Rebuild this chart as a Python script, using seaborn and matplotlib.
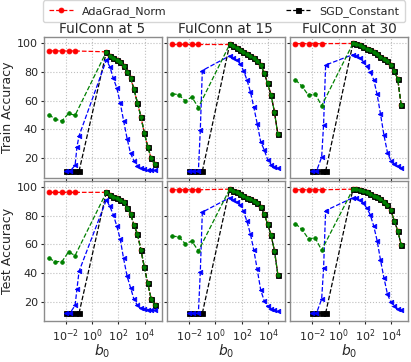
import numpy as np
import pandas as pd
import matplotlib
matplotlib.use("Agg")
import matplotlib.pyplot as plt
import seaborn as sns

# b0 grids
b0_low = [5e-4, 1.6e-3, 5e-3, 1.6e-2, 5e-2]          # AdaGrad_Norm + green series
b0_sgd_low = [0.01, 0.02, 0.05, 0.1]                # SGD_Constant, diverged runs
b0_blue_low = [0.01, 0.02, 0.05, 0.07, 0.1]
b0_high = [12, 22, 40, 74, 135, 245, 455, 830, 1500, 2760, 5100, 9300, 17000, 31000, 56000]

layers = [5, 15, 30]

# ---- train accuracy, one row per layer ----
train_red_low = [[94.6, 94.5, 94.5, 94.5, 94.5],
                 [99.0, 99.0, 99.0, 99.0, 99.0],
                 [99.6, 99.6, 99.6, 99.6, 99.6]]
train_green_low = [[50.3, 47.0, 45.9, 51.1, 49.8],
                   [64.8, 64.1, 59.8, 62.5, 55.2],
                   [74.5, 70.0, 63.6, 64.8, 56.4]]
train_green_high = [[93.9, 91.1, 89.8, 88.4, 87.1, 84.1, 80.2, 75.7, 68.0, 58.6, 48.9, 37.5, 28.0, 19.8, 15.9],
                    [99.0, 97.6, 96.5, 94.9, 93.5, 92.1, 90.8, 89.6, 87.6, 84.6, 79.4, 71.9, 63.9, 51.9, 36.5],
                    [99.7, 99.0, 98.3, 97.2, 96.1, 94.9, 93.5, 92.1, 90.6, 89.2, 87.4, 84.6, 80.5, 74.9, 56.9]]
train_blue_low = [[10.9, 10.9, 15.0, 28.0, 35.5],
                  [10.9, 10.9, 10.9, 39.3, 80.9],
                  [10.9, 10.9, 20.7, 43.4, 84.7]]
train_blue_high = [[88.2, 83.6, 75.7, 68.9, 58.6, 46.1, 33.6, 23.4, 18.2, 14.8, 13.2, 12.5, 12.1, 12.0, 12.0],
                   [91.1, 89.8, 88.2, 85.5, 80.9, 74.6, 66.2, 55.3, 44.0, 31.5, 25.8, 19.0, 15.6, 14.0, 12.9],
                   [92.0, 91.1, 89.8, 87.1, 84.1, 80.2, 74.6, 64.3, 50.7, 35.9, 23.9, 18.2, 15.9, 14.3, 13.2]]
train_sgd_low = [[10.9, 10.9, 10.9, 10.9],
                 [10.9, 10.9, 10.9, 10.9],
                 [10.9, 10.9, 10.9, 10.9]]

# ---- test accuracy ----
test_red_low = [[96.2, 96.2, 96.2, 96.2, 96.2],
                [98.0, 98.0, 98.0, 98.0, 98.0],
                [98.0, 98.0, 98.0, 98.0, 98.0]]
test_green_low = [[50.3, 48.1, 48.1, 54.8, 52.3],
                  [65.7, 65.4, 60.5, 62.3, 55.5],
                  [74.5, 70.4, 63.9, 64.6, 56.0]]
test_green_high = [[96.2, 94.4, 93.2, 92.3, 91.2, 89.4, 85.3, 81.3, 73.6, 67.3, 56.4, 44.2, 32.9, 22.0, 18.0],
                   [98.4, 97.3, 96.2, 94.8, 93.7, 92.5, 91.7, 90.3, 88.5, 85.8, 81.3, 74.0, 66.6, 55.5, 39.0],
                   [98.4, 98.2, 97.8, 97.1, 96.2, 95.3, 93.9, 92.8, 91.5, 89.8, 87.6, 83.7, 76.3, 69.5, 59.8]]
test_blue_low = [[12.2, 12.2, 17.6, 29.3, 41.3],
                 [12.2, 12.2, 12.2, 40.6, 82.4],
                 [12.2, 12.2, 22.0, 43.5, 83.5]]
test_blue_high = [[91.0, 86.4, 80.8, 72.9, 63.9, 50.3, 37.9, 30.0, 22.0, 17.6, 15.9, 15.3, 14.8, 14.4, 14.2],
                  [92.5, 91.0, 89.4, 87.6, 83.1, 76.3, 67.3, 56.0, 42.8, 28.4, 20.9, 16.9, 15.3, 14.6, 13.9],
                  [92.5, 92.1, 90.8, 88.7, 85.3, 80.8, 72.9, 62.7, 49.2, 36.7, 25.4, 19.8, 16.9, 15.3, 14.2]]
test_sgd_low = [[12.2, 12.2, 12.2, 12.2],
                [12.2, 12.2, 12.2, 12.2],
                [12.2, 12.2, 12.2, 12.2]]

sns.set_style("white")
plt.rcParams.update({
    "font.family": ["DejaVu Sans"],
    "axes.edgecolor": "0.55",
    "axes.linewidth": 1.0,
    "xtick.bottom": True,
    "ytick.left": True,
    "xtick.major.size": 2.5,
    "ytick.major.size": 2.5,
    "xtick.minor.size": 0,
    "xtick.labelsize": 8,
    "ytick.labelsize": 8,
})

fig, axes = plt.subplots(2, 3, figsize=(4.11, 3.62), dpi=100, sharex=True, sharey=True)

rows = [
    ("Train Accuracy", train_red_low, train_green_low, train_green_high, train_blue_low, train_blue_high, train_sgd_low),
    ("Test Accuracy", test_red_low, test_green_low, test_green_high, test_blue_low, test_blue_high, test_sgd_low),
]


def draw(ax, x, y, color, marker, ms, label=None, z=2):
    sns.lineplot(x=x, y=y, ax=ax, color=color, marker=marker, markersize=ms,
                 linestyle="--", linewidth=0.9, markeredgecolor=color,
                 markeredgewidth=0.6, label=label, legend=False, zorder=z)


for r, (ylab, red_low, g_low, g_high, b_low, b_high, s_low) in enumerate(rows):
    for c, layer in enumerate(layers):
        ax = axes[r, c]
        # AdaGrad_Norm, coincides with the others for large b0
        draw(ax, b0_low + b0_high, red_low[c] + g_high[c], "red", "o", 3.5,
             label="AdaGrad_Norm" if (r, c) == (0, 0) else None, z=2)
        draw(ax, b0_sgd_low + b0_high, s_low[c] + g_high[c], "black", "s", 3.6,
             label="SGD_Constant" if (r, c) == (0, 0) else None, z=3)
        draw(ax, b0_blue_low + b0_high, b_low[c] + b_high[c], "blue", "<", 3.2, z=4)
        draw(ax, b0_low + b0_high, g_low[c] + g_high[c], "green", "o", 2.6, z=5)

        ax.set_xscale("log")
        ax.set_xlim(2e-4, 1.9e5)
        ax.set_ylim(6.5, 104)
        ax.set_yticks([20, 40, 60, 80, 100])
        ax.set_xticks([1e-2, 1, 1e2, 1e4])
        ax.grid(True, which="major", linestyle=":", color="0.75", linewidth=0.8)
        if r == 0:
            ax.set_title(f"FulConn at {layer}", fontsize=9.8, pad=3)
        if r == 1:
            ax.set_xlabel(r"$b_0$", fontsize=10, labelpad=-1)
        else:
            ax.set_xlabel("")
        if c == 0:
            ax.set_ylabel(ylab, fontsize=9, labelpad=2)
        else:
            ax.set_ylabel("")
        ax.tick_params(axis="both", pad=1.5)

handles, labels = axes[0, 0].get_legend_handles_labels()
fig.legend(handles, labels, loc="lower left", bbox_to_anchor=(0.105, 0.938, 0.88, 0.05),
           mode="expand", ncol=2, fontsize=8, borderaxespad=0, frameon=True,
           handlelength=2.2, borderpad=0.5)

plt.subplots_adjust(left=0.106, right=0.993, bottom=0.112, top=0.897, wspace=0.045, hspace=0.025)
plt.savefig("out.png", dpi=100)
